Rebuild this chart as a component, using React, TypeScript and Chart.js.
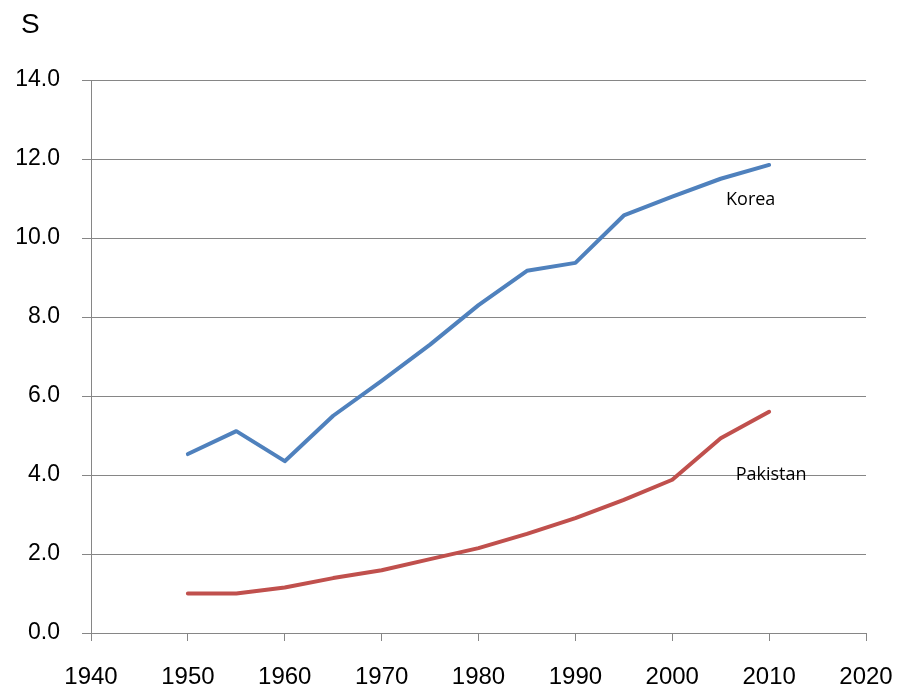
import React, { useEffect, useRef } from "react";
import { Chart, registerables } from "chart.js";

Chart.register(...registerables);

const years = [1950, 1955, 1960, 1965, 1970, 1975, 1980, 1985, 1990, 1995, 2000, 2005, 2010];
const korea = [4.53, 5.11, 4.35, 5.5, 6.38, 7.3, 8.3, 9.17, 9.37, 10.57, 11.05, 11.5, 11.85];
const pakistan = [1.0, 1.0, 1.15, 1.39, 1.59, 1.87, 2.15, 2.51, 2.91, 3.37, 3.88, 4.93, 5.6];
const seriesNames = ["Korea", "Pakistan"];
const yTitle = "S";

const GRID = "#868686";

export default function App() {
  const ref = useRef<HTMLCanvasElement | null>(null);

  useEffect(() => {
    if (!ref.current) return;
    const textPlugin = {
      id: "texts",
      afterDraw(chart: any) {
        const ctx = chart.ctx;
        const xs = chart.scales.x;
        const ys = chart.scales.y;
        ctx.save();
        ctx.fillStyle = "#000";
        ctx.font = "28px 'Liberation Sans', Arial, sans-serif";
        ctx.textAlign = "left";
        ctx.textBaseline = "alphabetic";
        ctx.fillText(yTitle, 21, 33);
        ctx.font = "18px 'Open Sans', sans-serif";
        ctx.textAlign = "center";
        ctx.textBaseline = "middle";
        ctx.fillText(seriesNames[0], xs.getPixelForValue(2008.1), ys.getPixelForValue(10.96));
        ctx.fillText(seriesNames[1], xs.getPixelForValue(2010.2), ys.getPixelForValue(4.0));
        ctx.restore();
      },
    };
    const chart = new Chart(ref.current, {
      type: "line",
      data: {
        datasets: [
          {
            label: seriesNames[0],
            data: years.map((x, i) => ({ x, y: korea[i] })),
            borderColor: "#4F81BD",
            borderWidth: 4,
            pointRadius: 0,
            tension: 0,
            borderCapStyle: "round",
            borderJoinStyle: "round",
          },
          {
            label: seriesNames[1],
            data: years.map((x, i) => ({ x, y: pakistan[i] })),
            borderColor: "#C0504D",
            borderWidth: 4,
            pointRadius: 0,
            tension: 0,
            borderCapStyle: "round",
            borderJoinStyle: "round",
          },
        ],
      },
      options: {
        responsive: false,
        animation: false,
        layout: { padding: { top: 80, right: 33, left: 0, bottom: 0 } },
        plugins: { legend: { display: false }, tooltip: { enabled: false } },
        scales: {
          x: {
            type: "linear",
            min: 1940,
            max: 2020,
            afterFit: (s: any) => {
              s.height = 57;
              s.paddingLeft = 0;
              s.paddingRight = 0;
            },
            ticks: {
              stepSize: 10,
              padding: 22,
              color: "#000",
              font: { family: "'Liberation Sans', Arial, sans-serif", size: 24 },
              callback: (v: any) => String(v),
              maxRotation: 0,
            },
            grid: { drawOnChartArea: false, drawTicks: true, tickLength: 8, color: GRID },
            border: { display: true, color: GRID },
          },
          y: {
            min: 0,
            max: 14,
            afterFit: (s: any) => {
              s.width = 91;
              s.paddingTop = 0;
              s.paddingBottom = 0;
            },
            ticks: {
              stepSize: 2,
              padding: 22,
              color: "#000",
              font: { family: "'Liberation Sans', Arial, sans-serif", size: 23 },
              callback: (v: any) => Number(v).toFixed(1),
            },
            grid: { drawTicks: true, tickLength: 9, color: GRID },
            border: { display: true, color: GRID },
          },
        },
      },
      plugins: [textPlugin],
    } as any);
    return () => chart.destroy();
  }, []);

  return (
    <div style={{ position: "absolute", left: 0, top: 0, width: 899, height: 690, background: "#fff" }}>
      <canvas ref={ref} width={899} height={690} style={{ display: "block" }} />
    </div>
  );
}
